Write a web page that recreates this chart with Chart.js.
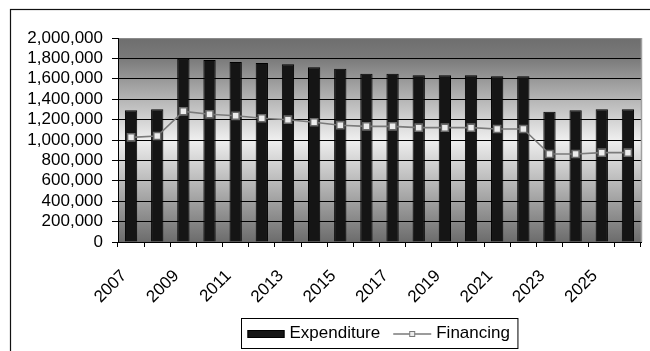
<!DOCTYPE html>
<html>
<head>
<meta charset="utf-8">
<title>Expenditure and Financing</title>
<script src="https://cdn.jsdelivr.net/npm/chart.js@4.4.1/dist/chart.umd.min.js"></script>
<style>
  html, body { margin: 0; padding: 0; background: #fff; }
  #wrap { width: 650px; height: 351px; position: relative; }
</style>
</head>
<body>
<div id="wrap"><canvas id="budgetChart" width="650" height="351"></canvas></div>
<script>
// ---- data ----
const years = ['2007', '2008', '2009', '2010', '2011', '2012', '2013', '2014', '2015', '2016',
               '2017', '2018', '2019', '2020', '2021', '2022', '2023', '2024', '2025', '2026'];

const expenditure = [1291000, 1301000, 1797000, 1784000, 1765000, 1755000, 1742000, 1713000, 1699000, 1650000,
                     1650000, 1634000, 1634000, 1634000, 1624000, 1624000, 1278000, 1291000, 1301000, 1301000];

const financing = [1026000, 1039000, 1281000, 1252000, 1237000, 1213000, 1199000, 1174000, 1145000, 1134000,
                   1134000, 1121000, 1121000, 1121000, 1108000, 1108000, 863000, 863000, 876000, 876000];

// every other year gets a label on the category axis
const yearLabels = ['2007', '2009', '2011', '2013', '2015', '2017', '2019', '2021', '2023', '2025'];

const yTicks = [0, 200000, 400000, 600000, 800000, 1000000, 1200000, 1400000, 1600000, 1800000, 2000000];

const FONT = "'Liberation Sans', Arial, sans-serif";
const FONT_SIZE = 17;

// outer frame + grey gradient behind the plot area
const backdrop = {
  id: 'backdrop',
  beforeDraw(chart) {
    const { ctx, chartArea: a } = chart;
    ctx.save();
    ctx.fillStyle = '#fff';
    ctx.fillRect(0, 0, chart.width, chart.height);

    const g = ctx.createLinearGradient(0, a.top, 0, a.bottom);
    g.addColorStop(0, '#6e6e6e');
    g.addColorStop(0.1, '#7a7a7a');
    g.addColorStop(0.5, '#efefef');
    g.addColorStop(1, '#6c6c6c');
    ctx.fillStyle = g;
    ctx.fillRect(a.left, a.top, a.right - a.left, a.bottom - a.top);

    // chart frame (only top and left edges fall inside the canvas)
    ctx.strokeStyle = '#111';
    ctx.lineWidth = 1.2;
    ctx.strokeRect(10.5, 9.5, 800, 500);
    ctx.restore();
  },
  afterDatasetsDraw(chart) {
    const { ctx, chartArea: a } = chart;
    ctx.save();
    ctx.strokeStyle = '#a0a0a0';
    ctx.lineWidth = 1.5;
    ctx.beginPath();
    ctx.moveTo(a.right + 0.5, a.top);
    ctx.lineTo(a.right + 0.5, a.bottom);
    ctx.stroke();
    ctx.restore();
  }
};

// boxed legend under the axis: solid swatch for bars, line + square marker for the series
const boxLegend = {
  id: 'boxLegend',
  afterDraw(chart) {
    const { ctx, chartArea: a } = chart;
    const ds = chart.data.datasets;
    ctx.save();
    ctx.font = FONT_SIZE + 'px ' + FONT;
    ctx.textBaseline = 'middle';

    const swatchW = 37, lineW = 38, padL = 6, padR = 8;
    const t0 = ctx.measureText(ds[0].label).width;
    const t1 = ctx.measureText(ds[1].label).width;
    const boxW = padL + swatchW + 5 + t0 + 13 + lineW + 5 + t1 + padR;
    const boxTop = chart.height - 32.5;
    const boxH = 30;
    const cx = (a.left + a.right) / 2;
    const x0 = Math.round(cx - boxW / 2) + 0.5;
    const midY = boxTop + boxH / 2;

    ctx.fillStyle = '#fff';
    ctx.fillRect(x0, boxTop, boxW, boxH);
    ctx.strokeStyle = '#000';
    ctx.lineWidth = 1;
    ctx.strokeRect(x0, boxTop, boxW, boxH);

    let x = x0 + padL;
    ctx.fillStyle = ds[0].backgroundColor;
    ctx.fillRect(x, midY - 3.5, swatchW, 8);
    ctx.strokeStyle = '#000';
    ctx.strokeRect(x + 0.5, midY - 3, swatchW - 1, 7);
    x += swatchW + 5;
    ctx.fillStyle = '#000';
    ctx.fillText(ds[0].label, x, midY);
    x += t0 + 13;

    ctx.strokeStyle = ds[1].borderColor;
    ctx.lineWidth = 1.5;
    ctx.beginPath();
    ctx.moveTo(x, midY + 0.5);
    ctx.lineTo(x + lineW, midY + 0.5);
    ctx.stroke();
    ctx.fillStyle = ds[1].pointBackgroundColor;
    ctx.fillRect(x + lineW / 2 - 2.5, midY - 2, 5, 5);
    ctx.lineWidth = 1;
    ctx.strokeRect(x + lineW / 2 - 2.5, midY - 2, 5, 5);
    x += lineW + 5;
    ctx.fillStyle = '#000';
    ctx.fillText(ds[1].label, x, midY);
    ctx.restore();
  }
};

new Chart(document.getElementById('budgetChart'), {
  type: 'bar',
  data: {
    labels: years,
    datasets: [
      {
        label: 'Expenditure',
        data: expenditure,
        backgroundColor: '#151515',
        borderColor: '#000',
        borderWidth: 1,
        barPercentage: 0.47,
        categoryPercentage: 1,
        order: 2,
      },
      {
        type: 'line',
        label: 'Financing',
        data: financing,
        borderColor: '#7a7a7a',
        borderWidth: 1.6,
        pointStyle: 'rect',
        pointRadius: 5,
        pointBorderWidth: 1.6,
        pointBorderColor: '#6a6a6a',
        pointBackgroundColor: '#ececec',
        tension: 0,
        order: 1,
      },
    ],
  },
  options: {
    responsive: false,
    animation: false,
    devicePixelRatio: 1,
    layout: { padding: { left: 0, top: 38, right: 9, bottom: 0 } },
    plugins: {
      legend: { display: false },
      tooltip: { enabled: false },
    },
    scales: {
      x: {
        offset: true,
        grid: {
          offset: true,
          drawOnChartArea: false,
          drawTicks: true,
          tickLength: 5,
          tickColor: '#000',
        },
        border: { display: true, color: '#000', width: 1 },
        ticks: {
          autoSkip: false,
          minRotation: 45,
          maxRotation: 45,
          padding: 19,
          labelOffset: -7,
          color: '#000',
          font: { family: FONT, size: FONT_SIZE },
          callback: (v, i) => (yearLabels.includes(years[i]) ? years[i] : ''),
        },
        afterFit: (scale) => {
          scale.height = 109;
          scale.paddingLeft = 0;
          scale.paddingRight = 0;
        },
      },
      y: {
        min: 0,
        max: 2000000,
        afterBuildTicks: (scale) => { scale.ticks = yTicks.map((v) => ({ value: v })); },
        grid: {
          color: (c) => (c.tick && c.tick.value === 2000000 ? '#8a8a8a' : '#000'),
          lineWidth: 1,
          drawTicks: true,
          tickLength: 6,
          tickColor: '#000',
        },
        border: { display: true, color: '#000', width: 1 },
        ticks: {
          autoSkip: false,
          padding: 9,
          color: '#000',
          font: { family: FONT, size: FONT_SIZE },
          callback: (v) => v.toLocaleString('en-US'),
        },
        afterFit: (scale) => { scale.width = 118; },
      },
    },
  },
  plugins: [backdrop, boxLegend],
});
</script>
</body>
</html>
